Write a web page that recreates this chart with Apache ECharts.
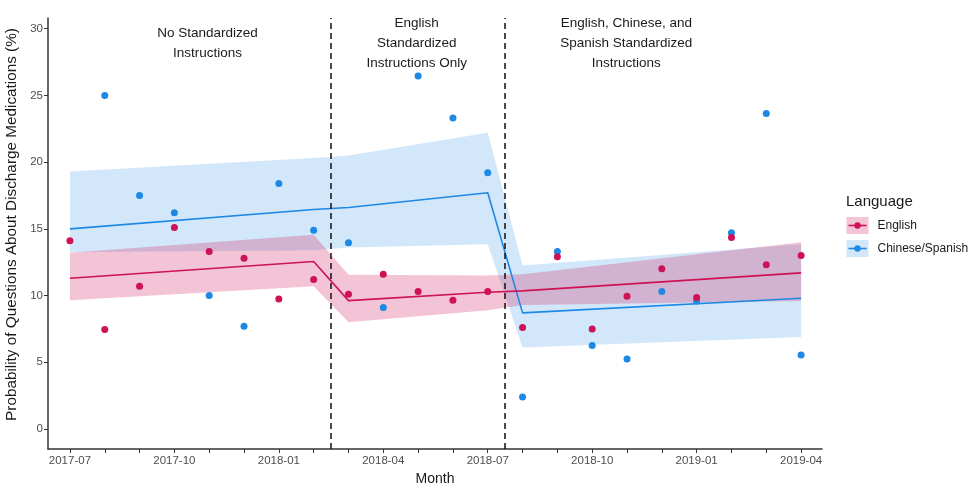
<!DOCTYPE html>
<html>
<head>
<meta charset="utf-8">
<script src="https://cdn.jsdelivr.net/npm/echarts@6/dist/echarts.min.js"></script>
<style>html,body{margin:0;padding:0;background:#fff}#c{width:969px;height:483px}</style>
</head>
<body>
<div id="c"></div>
<script>
// Months indexed 0 (2017-07) .. 21 (2019-04)
const monthIndex = [0,1,2,3,4,5,6,7,8,9,10,11,12,13,14,15,16,17,18,19,20,21];
const tickLabels = ['2017-07','2017-10','2018-01','2018-04','2018-07','2018-10','2019-01','2019-04'];
const yTicks = [0,5,10,15,20,25,30];

const englishVals = [14.1,7.45,10.7,15.1,13.3,12.8,9.75,11.2,10.1,11.6,10.3,9.65,10.3,7.6,12.9,7.5,9.95,12.0,9.85,14.35,12.3,13.0];
const otherVals   = [null,25.0,17.5,16.2,10.0,7.7,18.4,14.9,13.95,9.1,26.45,23.3,19.2,2.4,13.3,6.25,5.25,10.3,9.6,14.7,23.65,5.55];

const fitMonths     = [0,7,8,12,13,21];
const englishFit    = [11.3,12.55,9.62,10.25,10.35,11.7];
const englishLower  = [9.65,10.7,8.0,8.9,9.3,9.6];
const englishUpper  = [13.2,14.55,11.55,11.5,11.6,14.0];
const otherFit      = [15.0,16.45,16.6,17.7,8.7,9.8];
const otherLower    = [13.25,13.4,13.6,13.85,6.1,6.9];
const otherUpper    = [19.3,20.3,20.5,22.2,12.25,13.85];

const breakPoints = [7.5,12.5];
const phaseLabels = ['No Standardized\nInstructions','English\nStandardized\nInstructions Only','English, Chinese, and\nSpanish Standardized\nInstructions'];
const phaseCenters = [3.95,9.96,15.98];
const seriesNames = ['English','Chinese/Spanish'];

const RED = '#CE1256', BLUE = '#1E88E5';
const RED_BAND = 'rgba(206,18,86,0.25)', BLUE_BAND = 'rgba(30,136,229,0.2)';
const FONT = "'Liberation Sans', Arial, sans-serif";

function band(name, lower, upper, fill) {
  return {
    type: 'custom', name: name + ' band', silent: true, z: 1,
    data: fitMonths.map((m, i) => [m, lower[i], upper[i]]),
    encode: { x: 0, y: [1, 2] },
    renderItem: function (params, api) {
      if (params.dataIndex !== 0) return null;
      const pts = [];
      for (let i = 0; i < fitMonths.length; i++) pts.push(api.coord([fitMonths[i], upper[i]]));
      for (let i = fitMonths.length - 1; i >= 0; i--) pts.push(api.coord([fitMonths[i], lower[i]]));
      return { type: 'polygon', shape: { points: pts }, style: { fill: fill } };
    }
  };
}

const chart = echarts.init(document.getElementById('c'), null, { renderer: 'canvas' });
chart.setOption({
  animation: false,
  backgroundColor: '#fff',
  textStyle: { fontFamily: FONT },
  grid: { left: 48, right: 147, top: 18, bottom: 34, containLabel: false, outerBoundsMode: 'none' },
  xAxis: {
    type: 'value', min: -0.63, max: 21.6,
    name: 'Month', nameLocation: 'middle', nameGap: 15,
    nameTextStyle: { fontSize: 14, color: '#1a1a1a', fontFamily: FONT },
    axisLine: { show: true, onZero: false, lineStyle: { color: '#333', width: 1.5 } },
    axisTick: { show: true, length: 4, lineStyle: { color: '#333', width: 1 }, customValues: monthIndex },
    axisLabel: { fontSize: 11.5, color: '#4d4d4d', margin: 6, fontFamily: FONT,
      customValues: tickLabels.map((t, i) => i * 3),
      formatter: v => tickLabels[Math.round(v / 3)] },
    splitLine: { show: false }
  },
  yAxis: {
    type: 'value', min: -1.5, max: 30.8,
    name: 'Probability of Questions About Discharge Medications (%)',
    nameLocation: 'middle', nameGap: 17, nameRotate: 90,
    nameTextStyle: { fontSize: 15.3, color: '#1a1a1a', fontFamily: FONT, padding: [0, 0, 0, 18] },
    axisLine: { show: true, onZero: false, lineStyle: { color: '#333', width: 1.5 } },
    axisTick: { show: true, length: 4, lineStyle: { color: '#333', width: 1 }, customValues: yTicks },
    axisLabel: { fontSize: 11.5, color: '#4d4d4d', margin: 5, fontFamily: FONT, customValues: yTicks },
    splitLine: { show: false }
  },
  series: [
    band('Chinese/Spanish', otherLower, otherUpper, BLUE_BAND),
    band('English', englishLower, englishUpper, RED_BAND),
    {
      type: 'line', name: 'Chinese/Spanish fit', z: 3, showSymbol: false, silent: true,
      data: fitMonths.map((m, i) => [m, otherFit[i]]),
      lineStyle: { color: BLUE, width: 1.6 }
    },
    {
      type: 'line', name: 'English fit', z: 3, showSymbol: false, silent: true,
      data: fitMonths.map((m, i) => [m, englishFit[i]]),
      lineStyle: { color: RED, width: 1.6 },
      markLine: {
        silent: true, symbol: 'none', label: { show: false },
        lineStyle: { color: '#111', type: [6, 4], width: 1.5 },
        data: breakPoints.map(b => ({ xAxis: b }))
      }
    },
    {
      type: 'scatter', name: seriesNames[1], z: 4, symbolSize: 7,
      itemStyle: { color: BLUE, opacity: 1 },
      data: monthIndex.map(i => [i, otherVals[i]]).filter(d => d[1] !== null)
    },
    {
      type: 'scatter', name: seriesNames[0], z: 5, symbolSize: 7,
      itemStyle: { color: RED, opacity: 1 },
      data: monthIndex.map(i => [i, englishVals[i]]),
      markPoint: {
        silent: true, symbol: 'rect', symbolSize: 1,
        itemStyle: { color: 'rgba(0,0,0,0)' },
        label: { show: true, position: 'inside', color: '#1a1a1a', fontSize: 13.5, lineHeight: 19.8, align: 'center', verticalAlign: 'middle', fontFamily: FONT },
        data: phaseLabels.map((t, i) => ({ coord: [phaseCenters[i], 28.9], value: 0, label: { formatter: t } }))
      }
    }
  ],
  graphic: [
    { type: 'text', left: 846, top: 194, style: { text: 'Language', fill: '#1a1a1a', font: '15px ' + FONT } },
    { type: 'group', left: 846, top: 217, children: [
      { type: 'rect', shape: { x: 0, y: 0, width: 22, height: 17 }, style: { fill: RED_BAND } },
      { type: 'line', shape: { x1: 2, y1: 8.5, x2: 20, y2: 8.5 }, style: { stroke: RED, lineWidth: 1.6 } },
      { type: 'circle', shape: { cx: 11, cy: 8.5, r: 3.2 }, style: { fill: RED } },
      { type: 'text', x: 31, y: 8.5, style: { text: seriesNames[0], fill: '#1a1a1a', font: '12px ' + FONT, verticalAlign: 'middle' } }
    ] },
    { type: 'group', left: 846, top: 240, children: [
      { type: 'rect', shape: { x: 0, y: 0, width: 22, height: 17 }, style: { fill: BLUE_BAND } },
      { type: 'line', shape: { x1: 2, y1: 8.5, x2: 20, y2: 8.5 }, style: { stroke: BLUE, lineWidth: 1.6 } },
      { type: 'circle', shape: { cx: 11, cy: 8.5, r: 3.2 }, style: { fill: BLUE } },
      { type: 'text', x: 31, y: 8.5, style: { text: seriesNames[1], fill: '#1a1a1a', font: '12px ' + FONT, verticalAlign: 'middle' } }
    ] }
  ]
});
</script>
</body>
</html>
